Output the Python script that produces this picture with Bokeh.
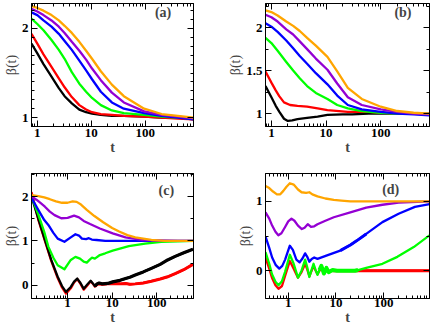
from bokeh.plotting import figure
from bokeh.layouts import gridplot
from bokeh.models import (FixedTicker, LinearAxis, LogAxis, Label, CustomJSTickFormatter,
                          AllLabels)
from bokeh.embed import file_html
from bokeh.resources import INLINE

COLORS = {"black": "#000000", "red": "#ff0000", "green": "#00ff00",
          "blue": "#0000ff", "violet": "#9400d3", "orange": "#ffa500"}

# ---------------- panel (a) ----------------
A_T = [0.78, 1, 1.3, 1.83, 2.5, 3.2, 4.35, 6, 8, 10.3, 15, 24, 40, 95, 200, 400, 780]
A_BLACK = [1.83, 1.72, 1.60, 1.46, 1.33, 1.24, 1.16, 1.09, 1.06, 1.045, 1.03, 1.02, 1.02, 1.01, 1.0, 1.0, 0.98]
A_RED = [1.94, 1.83, 1.71, 1.57, 1.44, 1.34, 1.23, 1.14, 1.09, 1.06, 1.04, 1.03, 1.02, 1.01, 1.0, 0.99, 0.98]
A_GREEN = [2.11, 2.05, 1.98, 1.87, 1.76, 1.66, 1.51, 1.38, 1.29, 1.22, 1.14, 1.08, 1.05, 1.03, 1.01, 1.0, 0.99]
A_BLUE = [2.18, 2.15, 2.09, 2.02, 1.94, 1.86, 1.76, 1.64, 1.53, 1.43, 1.29, 1.17, 1.10, 1.05, 1.02, 1.0, 0.98]
A_VIOLET = [2.22, 2.19, 2.15, 2.09, 2.02, 1.95, 1.85, 1.75, 1.65, 1.55, 1.42, 1.28, 1.17, 1.07, 1.03, 1.01, 0.99]
A_ORANGE = [2.25, 2.23, 2.20, 2.15, 2.09, 2.03, 1.95, 1.85, 1.75, 1.66, 1.52, 1.37, 1.24, 1.10, 1.04, 1.02, 1.0]

# ---------------- panel (b) ----------------
B_T = [0.78, 1, 1.3, 1.87, 2.5, 3.3, 4.5, 6.5, 10.6, 16, 25, 45, 100, 200, 400, 780]
B_ORANGE = [2.20, 2.18, 2.14, 2.07, 2.02, 1.96, 1.88, 1.79, 1.66, 1.49, 1.30, 1.17, 1.08, 1.03, 1.01, 1.0]
B_VIOLET = [2.15, 2.12, 2.07, 1.98, 1.92, 1.84, 1.75, 1.64, 1.51, 1.35, 1.19, 1.10, 1.05, 1.02, 1.0, 0.99]
B_BLUE = [2.05, 2.01, 1.95, 1.85, 1.76, 1.67, 1.58, 1.47, 1.34, 1.21, 1.10, 1.05, 1.02, 1.0, 0.99, 0.98]
B_GREEN = [1.88, 1.82, 1.73, 1.60, 1.50, 1.41, 1.32, 1.24, 1.17, 1.10, 1.06, 1.03, 1.01, 1.0, 1.0, 0.99]
B_T_RED = [0.78, 1, 1.2, 1.4, 1.7, 2.2, 3, 4.5, 7, 10.6, 25, 60, 100, 300, 780]
B_RED = [1.49, 1.36, 1.27, 1.20, 1.13, 1.10, 1.09, 1.08, 1.06, 1.04, 1.02, 1.02, 1.01, 1.0, 0.99]
B_T_BLACK = [0.78, 1, 1.2, 1.4, 1.7, 2.0, 2.4, 3, 4.5, 7, 10.6, 20, 30, 60, 150, 300, 780]
B_BLACK = [1.32, 1.19, 1.09, 1.02, 0.94, 0.915, 0.92, 0.935, 0.95, 0.965, 0.985, 0.99, 0.99, 1.0, 1.0, 1.0, 1.0]

# ---------------- panel (c) ----------------
C_T_ORANGE = [0.155, 0.22, 0.3, 0.4, 0.55, 0.75, 1.0, 1.3, 1.6, 2.0, 2.7, 4, 6.3, 10, 14.4, 22, 33, 50, 76, 150, 300, 670]
C_ORANGE = [2.03, 2.01, 1.98, 1.94, 1.89, 1.86, 1.86, 1.89, 1.88, 1.82, 1.70, 1.56, 1.42, 1.29, 1.21, 1.13, 1.08, 1.05, 1.02, 1.0, 1.0, 1.0]
C_T_VIOLET = [0.155, 0.2, 0.25, 0.31, 0.4, 0.51, 0.72, 1.0, 1.4, 1.8, 2.3, 3.2, 5.3, 10.3, 20, 46, 100, 300, 670]
C_VIOLET = [2.0, 1.93, 1.85, 1.77, 1.66, 1.58, 1.51, 1.52, 1.57, 1.53, 1.45, 1.38, 1.28, 1.17, 1.08, 1.02, 1.01, 1.0, 1.0]
C_T_BLUE = [0.155, 0.22, 0.3, 0.37, 0.48, 0.6, 0.85, 1.18, 1.5, 1.8, 2.1, 2.6, 3.0, 3.5, 4.5, 7, 15, 50, 200, 670]
C_BLUE = [1.97, 1.70, 1.47, 1.36, 1.18, 1.05, 0.98, 1.08, 1.15, 1.12, 1.05, 1.04, 1.06, 1.03, 1.02, 1.0, 1.0, 1.0, 1.0, 1.0]
C_T_GREEN = [0.155, 0.22, 0.3, 0.37, 0.48, 0.6, 0.85, 1.18, 1.5, 1.9, 2.3, 2.7, 3.1, 3.5, 4.1, 5.3, 7, 10.3, 23.7, 55, 126, 300, 670]
C_GREEN = [2.0, 1.60, 1.20, 0.87, 0.62, 0.45, 0.36, 0.57, 0.64, 0.60, 0.53, 0.51, 0.57, 0.62, 0.60, 0.68, 0.72, 0.78, 0.88, 0.94, 0.98, 0.99, 1.0]
C_T_BK = [0.155, 0.22, 0.31, 0.43, 0.6, 0.75, 0.92, 1.18, 1.4, 1.65, 1.95, 2.3, 2.8, 3.3, 3.7, 4.1, 4.6, 5.1, 6, 8, 10.3, 15, 20, 25, 33, 50, 76, 120, 176, 260, 405, 650]
C_BLACK = [2.0, 1.50, 1.02, 0.57, 0.19, -0.02, -0.15, -0.04, 0.08, 0.15, 0.05, -0.08, 0.02, 0.10, 0.04, -0.02, 0.03, 0.05, 0.03, 0.04, 0.075, 0.11, 0.15, 0.18, 0.23, 0.30, 0.38, 0.47, 0.57, 0.65, 0.73, 0.81]
C_RED = [2.1, 1.48, 1.0, 0.55, 0.16, -0.05, -0.19, -0.07, 0.06, 0.14, 0.03, -0.10, 0.0, 0.09, 0.03, -0.03, 0.02, 0.03, 0.02, 0.03, 0.03, 0.03, 0.04, 0.02, 0.03, 0.05, 0.09, 0.14, 0.19, 0.26, 0.35, 0.47]

# ---------------- panel (d) ----------------
D_T_ORANGE = [0.334, 0.4, 0.48, 0.58, 0.68, 0.79, 0.92, 1.08, 1.3, 1.6, 1.9, 2.37, 2.77, 3.2, 4.1, 6, 9, 13, 20, 50, 94, 300, 910]
D_ORANGE = [1.22, 1.19, 1.14, 1.10, 1.10, 1.15, 1.21, 1.26, 1.24, 1.17, 1.13, 1.12, 1.13, 1.10, 1.07, 1.04, 1.02, 1.01, 1.0, 1.0, 1.0, 1.0, 1.0]
D_T_VIOLET = [0.334, 0.4, 0.46, 0.54, 0.62, 0.72, 0.86, 1.0, 1.17, 1.35, 1.6, 1.93, 2.2, 2.56, 3.0, 3.5, 4.1, 6, 9, 20, 43, 94, 205, 910]
D_VIOLET = [0.84, 0.75, 0.65, 0.56, 0.51, 0.54, 0.63, 0.71, 0.75, 0.72, 0.65, 0.60, 0.62, 0.67, 0.63, 0.64, 0.67, 0.72, 0.77, 0.84, 0.91, 0.95, 0.98, 1.0]
D_T_BLUE = [0.334, 0.4, 0.46, 0.55, 0.65, 0.75, 0.86, 1.08, 1.25, 1.48, 1.73, 2.0, 2.26, 2.5, 2.77, 3.1, 3.5, 4.1, 6.5, 12.3, 20, 27, 43, 94, 205, 450, 910]
D_BLUE = [0.49, 0.33, 0.19, 0.08, 0.03, 0.07, 0.16, 0.36, 0.30, 0.16, 0.12, 0.18, 0.25, 0.20, 0.13, 0.17, 0.19, 0.17, 0.22, 0.29, 0.37, 0.43, 0.53, 0.70, 0.82, 0.92, 0.96]
D_T_GR = [0.334, 0.4, 0.457, 0.54, 0.625, 0.74, 0.855, 1.08, 1.3, 1.6, 1.9, 2.26, 2.5, 2.77, 3.05, 3.39, 3.7, 4.1, 4.5, 4.94, 5.6, 6.3, 7.0, 8.5, 10.5, 15, 20, 25, 29, 43, 94, 193, 425, 910]
D_GREEN = [0.27, 0.10, -0.05, -0.16, -0.21, -0.15, -0.02, 0.23, 0.10, -0.10, 0.0, 0.16, 0.05, -0.09, 0.0, 0.10, 0.02, -0.06, 0.01, 0.07, -0.04, 0.04, -0.02, 0.01, 0.0, 0.0, 0.0, 0.0, 0.01, 0.04, 0.10, 0.20, 0.34, 0.51]
D_RED = [0.19, 0.03, -0.10, -0.21, -0.26, -0.22, -0.08, 0.14, 0.03, -0.10, -0.02, 0.10, 0.02, -0.08, -0.01, 0.07, 0.01, -0.05, 0.0, 0.04, -0.03, 0.02, -0.01, 0.0, 0.0, 0.0, 0.0, 0.0, 0.0, 0.0, 0.0, 0.0, 0.0, 0.0]

# ---------------- axes ----------------
X_MAJOR = [1, 10, 100]
X_MINOR = [m * 10.0 ** e for e in range(-1, 3) for m in range(2, 10)]

SERIF = "Liberation Serif"


def style_axis(ax, labels=True, standoff=1):
    ax.axis_line_color = "black"
    ax.axis_line_width = 1
    ax.major_tick_in = 6
    ax.major_tick_out = 0
    ax.minor_tick_in = 3
    ax.minor_tick_out = 0
    ax.major_tick_line_color = "black"
    ax.minor_tick_line_color = "black"
    ax.major_label_text_font = SERIF
    ax.major_label_text_font_style = "bold"
    ax.major_label_policy = AllLabels()
    if labels:
        ax.major_label_text_color = "black"
        ax.major_label_text_font_size = "13px"
        ax.major_label_standoff = standoff
    else:
        ax.major_label_text_color = None
        ax.major_label_text_font_size = "1px"
        ax.major_label_standoff = 0


def panel(series, x_range, y_range, y_major, y_minor, tag, tag_pos, w, h, borders,
          xstand, noise=None):
    left, right, top, bottom = borders
    p = figure(width=w, height=h, x_axis_type="log", x_range=x_range, y_range=y_range,
               output_backend="svg", toolbar_location=None,
               min_border_left=left, min_border_right=right,
               min_border_top=top, min_border_bottom=bottom)
    p.grid.visible = False
    p.outline_line_color = "black"
    p.background_fill_color = "white"
    p.border_fill_color = "white"

    fmt = CustomJSTickFormatter(code="return String(tick);")
    xt = FixedTicker(ticks=X_MAJOR, minor_ticks=X_MINOR)
    yt = FixedTicker(ticks=y_major, minor_ticks=y_minor)

    xa = p.xaxis[0]
    xa.ticker = xt
    xa.formatter = fmt
    style_axis(xa, standoff=xstand)
    xa.axis_label = "t"
    xa.axis_label_text_font = SERIF
    xa.axis_label_text_font_style = "bold"
    xa.axis_label_text_font_size = "14px"
    xa.axis_label_standoff = 0

    ya = p.yaxis[0]
    ya.ticker = yt
    ya.formatter = fmt
    style_axis(ya, standoff=3)
    ya.axis_label = "β(t)"
    ya.axis_label_text_font = SERIF
    ya.axis_label_text_font_style = "normal"
    ya.axis_label_text_font_size = "14px"
    ya.axis_label_standoff = 0

    ta = LogAxis(ticker=xt, formatter=CustomJSTickFormatter(code="return '';"))
    style_axis(ta, labels=False)
    p.add_layout(ta, "above")
    ra = LinearAxis(ticker=yt, formatter=CustomJSTickFormatter(code="return '';"))
    style_axis(ra, labels=False)
    p.add_layout(ra, "right")

    noise = noise or {}
    for name, ts, vs in series:
        p.line(ts, vs, line_color=COLORS[name], line_width=2.3, line_join="round")
        if name in noise:
            lo, hi, lw = noise[name]
            sel = [(t, v) for t, v in zip(ts, vs) if lo <= t <= hi]
            p.line([s[0] for s in sel], [s[1] for s in sel], line_color=COLORS[name],
                   line_width=lw, line_join="round")

    p.add_layout(Label(x=tag_pos[0], y=tag_pos[1], text=tag, text_font=SERIF,
                       text_font_style="bold", text_font_size="14px",
                       text_align="center", text_baseline="middle"))
    return p


pa = panel([("black", A_T, A_BLACK), ("red", A_T, A_RED), ("green", A_T, A_GREEN),
            ("blue", A_T, A_BLUE), ("violet", A_T, A_VIOLET), ("orange", A_T, A_ORANGE)],
           (0.78, 780), (0.9, 2.28), [1, 2], [0.9, 1.1, 1.2, 1.3, 1.4, 1.5, 1.6, 1.7, 1.8, 1.9, 2.1, 2.2],
           "(a)", (213, 2.18), 218, 163, (26, 21, 3, 37), 2)

pb = panel([("black", B_T_BLACK, B_BLACK), ("red", B_T_RED, B_RED), ("green", B_T, B_GREEN),
            ("blue", B_T, B_BLUE), ("violet", B_T, B_VIOLET), ("orange", B_T, B_ORANGE)],
           (0.78, 780), (0.85, 2.28), [1, 1.5, 2], [1.25, 1.75, 2.25],
           "(b)", (255, 2.18), 218, 163, (43, 7, 3, 33), 2)

pc = panel([("red", C_T_BK, C_RED), ("black", C_T_BK, C_BLACK), ("green", C_T_GREEN, C_GREEN),
            ("blue", C_T_BLUE, C_BLUE), ("violet", C_T_VIOLET, C_VIOLET), ("orange", C_T_ORANGE, C_ORANGE)],
           (0.155, 670), (-0.3, 2.52), [0, 1, 2], [0.5, 1.5, 2.5],
           "(c)", (165, 2.14), 218, 164, (26, 25, 10, 29), 0,
           noise={"black": (4, 700, 3.2), "red": (4, 700, 3.0)})

pd_ = panel([("red", D_T_GR, D_RED), ("green", D_T_GR, D_GREEN), ("blue", D_T_BLUE, D_BLUE),
             ("violet", D_T_VIOLET, D_VIOLET), ("orange", D_T_ORANGE, D_ORANGE)],
            (0.334, 910), (-0.4, 1.4), [0, 1], [0.5],
            "(d)", (140, 1.17), 218, 164, (47, 3, 8, 27), 0,
            noise={"green": (4.5, 29, 4.0), "red": (8, 950, 3.0), "blue": (8, 50, 3.0)})

grid = gridplot([[pa, pb], [pc, pd_]], toolbar_location=None)

open("out.html", "w").write(file_html(grid, INLINE))
